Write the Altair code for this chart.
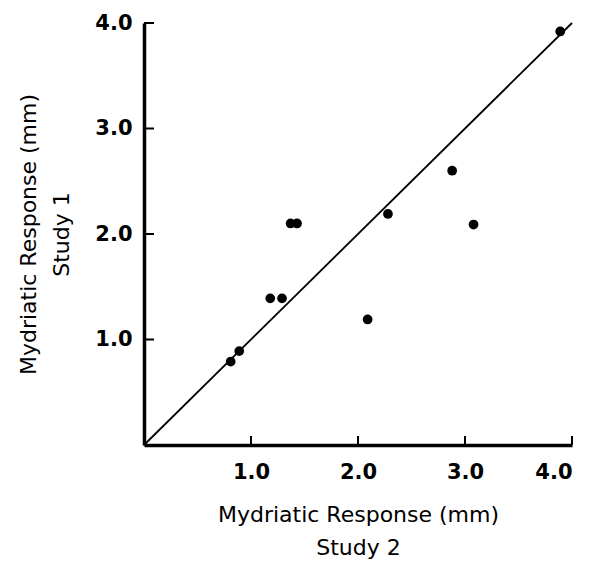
import altair as alt
import pandas as pd

# Data
study2 = [0.81, 0.89, 1.18, 1.29, 1.37, 1.43, 2.09, 2.28, 2.88, 3.08, 3.89]
study1 = [0.79, 0.89, 1.39, 1.39, 2.10, 2.10, 1.19, 2.19, 2.60, 2.09, 3.92]
identity_x = [0.0, 4.0]
identity_y = [0.0, 4.0]
tick_values = [1.0, 2.0, 3.0, 4.0]

W, H = 428, 422
FONT = "DejaVu Sans"

pts = pd.DataFrame({"s2": study2, "s1": study1})
line_df = pd.DataFrame({"s2": identity_x, "s1": identity_y})
ticks_df = pd.DataFrame({"v": tick_values})

xscale = alt.Scale(domain=[0, 4], nice=False, zero=True)
yscale = alt.Scale(domain=[0, 4], nice=False, zero=True)

xaxis = alt.Axis(values=tick_values, format=".1f", title=["Mydriatic Response (mm)", "Study 2"],
                 ticks=False, grid=False, labelPadding=16, titlePadding=22)
yaxis = alt.Axis(values=tick_values, format=".1f", title=["Mydriatic Response (mm)", "Study 1"],
                 ticks=False, grid=False, labelPadding=12, titlePadding=21)

line = alt.Chart(line_df).mark_line(color="black", strokeWidth=1.8, clip=False).encode(
    x=alt.X("s2:Q", scale=xscale, axis=xaxis),
    y=alt.Y("s1:Q", scale=yscale, axis=yaxis),
)

points = alt.Chart(pts).mark_circle(color="black", opacity=1, size=95).encode(
    x=alt.X("s2:Q", scale=xscale),
    y=alt.Y("s1:Q", scale=yscale),
)

xticks = alt.Chart(ticks_df).mark_rule(color="black", strokeWidth=2).encode(
    x=alt.X("v:Q", scale=xscale),
    y=alt.value(H),
    y2=alt.value(H - 9),
)

yticks = alt.Chart(ticks_df).mark_rule(color="black", strokeWidth=2).encode(
    y=alt.Y("v:Q", scale=yscale),
    x=alt.value(0),
    x2=alt.value(10),
)

chart = alt.layer(line, points, xticks, yticks).properties(
    width=W, height=H,
    autosize=alt.AutoSizeParams(type="none"),
    padding={"left": 136, "top": 15, "right": 24, "bottom": 114},
).configure_view(stroke=None).configure_axis(
    domainColor="black", domainWidth=3.5,
    labelFont=FONT, labelFontWeight="bold", labelFontSize=21, labelColor="black",
    titleFont=FONT, titleFontWeight="normal", titleFontSize=22, titleColor="black",
    titleLineHeight=33,
)

chart.save("out.html", embed_options={"renderer": "svg", "actions": False})
